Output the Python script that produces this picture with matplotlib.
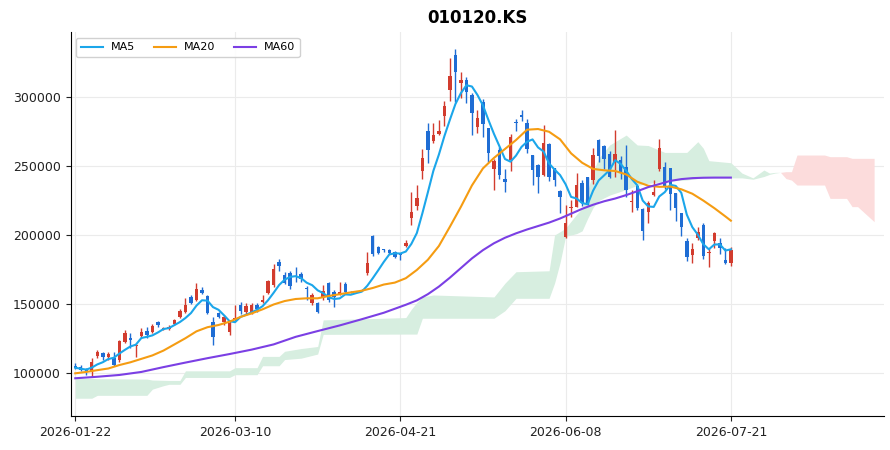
import numpy as np
import pandas as pd
import matplotlib
matplotlib.use("Agg")
import matplotlib.pyplot as plt

title = "010120.KS"
tick_labels = ["2026-01-22", "2026-03-10", "2026-04-21", "2026-06-08", "2026-07-21"]

opens = [104800, 104400, 101500, 101200, 112100, 114100, 111200, 110400, 109200, 122500,
         124800, 119400, 126600, 130500, 129800, 136600, 132000, 131700, 135200, 140700,
         144300, 155200, 152800, 160000, 155700, 137000, 143100, 137000, 129800, 138500,
         149200, 144300, 143600, 149200, 151200, 157700, 163700, 180600, 171000, 172600,
         170000, 171500, 161500, 150400, 150400, 154800, 165000, 158800, 157000, 164400,
         158500, 159000, 159500, 172200, 199100, 191100, 189300, 189100, 187900, 185700,
         192000, 212100, 221300, 246700, 275700, 268500, 273500, 286300, 305100, 330600,
         310200, 312600, 301700, 278200, 296800, 277500, 247700, 261700, 240400, 254400,
         281800, 287100, 281600, 258100, 250800, 243500, 266100, 248400, 232200, 198300,
         219400, 220100, 237500, 241900, 239900, 268900, 264600, 258800, 253200, 254400,
         249600, 224000, 235600, 218600, 216900, 229000, 247700, 249600, 248400, 230700,
         215700, 195800, 185500, 197600, 207300, 186800, 195800, 194000, 181800, 179900]
highs = [107000, 105200, 103200, 110600, 116200, 115000, 115200, 115200, 123800, 131000,
         128600, 120600, 132300, 133000, 135000, 137500, 133500, 134500, 139000, 146500,
         154500, 156500, 164800, 162000, 156400, 140700, 144000, 142000, 138500, 149200,
         151500, 150500, 150400, 150500, 156400, 167500, 179000, 182300, 172800, 174200,
         176500, 172800, 163000, 157700, 151200, 163700, 166200, 160000, 166000, 165500,
         159000, 159500, 160500, 187900, 200000, 192000, 190000, 189800, 188500, 187000,
         196000, 231000, 236000, 262200, 281100, 281500, 283500, 297500, 328300, 334900,
         318600, 314500, 303000, 291000, 298500, 278000, 255000, 264000, 248000, 273500,
         284500, 291000, 284500, 258100, 251800, 280000, 266600, 248600, 232500, 222000,
         225500, 245000, 240000, 242500, 263000, 269900, 265300, 261000, 276100, 257500,
         265400, 232700, 236300, 219400, 224800, 240000, 269500, 253200, 248400, 230700,
         215700, 197600, 194400, 205700, 209000, 190300, 202400, 197600, 190300, 191500]
lows = [102300, 101000, 98300, 97100, 110400, 109500, 109500, 104800, 107500, 121200,
        117700, 111600, 125200, 125500, 128800, 133000, 131200, 131000, 134500, 140000,
        143500, 149800, 151800, 157000, 142800, 120100, 139500, 134500, 127500, 137500,
        142600, 142800, 142600, 144300, 150400, 157000, 162400, 174000, 164200, 160700,
        166000, 166000, 153000, 149200, 143600, 152800, 151500, 147500, 156500, 157500,
        157500, 158300, 159000, 171000, 184500, 186000, 188000, 186500, 183500, 182000,
        191500, 207000, 218000, 240400, 252100, 267000, 273000, 279000, 297500, 296800,
        299300, 296000, 272600, 274000, 271500, 253200, 232700, 240500, 231400, 246700,
        275500, 283000, 259300, 236300, 230700, 243000, 239300, 235500, 216200, 198000,
        213000, 220000, 221000, 222000, 236700, 253200, 247700, 241200, 242500, 240900,
        227800, 216900, 218200, 196400, 209000, 228000, 246700, 233400, 218200, 210200,
        199000, 181300, 179900, 196400, 182300, 177000, 190300, 186000, 178700, 177500]
closes = [103600, 102000, 101000, 108000, 115200, 111600, 113600, 105600, 123200, 128600,
          124000, 120200, 129800, 127400, 133900, 134600, 132500, 133400, 138300, 145000,
          149200, 150400, 160600, 157700, 143600, 125700, 140700, 140700, 136300, 139800,
          145000, 148400, 149200, 146000, 152800, 166800, 175100, 177500, 165400, 163000,
          169500, 167800, 161000, 156400, 144300, 159300, 152800, 154800, 158500, 158800,
          158000, 158800, 160000, 179900, 186300, 187100, 188900, 187100, 184200, 185300,
          194400, 216500, 226600, 255700, 261700, 272600, 275500, 293600, 315300, 318600,
          312600, 304100, 288800, 284700, 280600, 259300, 253900, 243500, 238700, 271000,
          281300, 285500, 262200, 247200, 241900, 266600, 241900, 239900, 227400, 208500,
          220600, 236300, 223000, 223400, 258100, 257300, 255000, 242300, 258800, 244800,
          232700, 225000, 219400, 203100, 223500, 231000, 263000, 235000, 229800, 219400,
          206000, 183800, 189600, 202400, 184700, 187400, 201200, 190300, 179900, 189100]

# moving averages (every 2 bars)
ma20_x = [0, 2, 4, 6, 8, 10, 12, 14, 16, 18, 20, 22, 24, 26, 28, 30, 32, 34, 36, 38,
          40, 42, 44, 46, 48, 50, 52, 54, 56, 58, 60, 62, 64, 66, 68, 70, 72, 74, 76, 78,
          80, 82, 84, 86, 88, 90, 92, 94, 96, 98, 100, 102, 104, 106, 108, 110, 112, 114,
          116, 118, 119]
ma20 = [99500, 100500, 101800, 103000, 105500, 107500, 110000, 112500, 116000, 120500,
        125000, 130000, 133000, 134600, 137000, 140500, 143000, 146000, 149500, 152000,
        153500, 154000, 154000, 155700, 157000, 158300, 159500, 161500, 164000, 165400,
        168600, 174600, 182000, 192000, 206000, 220500, 236000, 248400, 256000, 262500,
        269000, 276500, 277000, 275000, 269500, 259300, 252500, 248000, 247000, 246500,
        244000, 238700, 235800, 235000, 235200, 233200, 230000, 225000, 219500, 213500,
        210400]
ma60_x = [0, 4, 8, 12, 16, 20, 24, 28, 32, 36, 40, 44, 48, 52, 56, 60, 62, 64, 66, 68,
          70, 72, 74, 76, 78, 80, 82, 84, 86, 88, 90, 92, 94, 96, 98, 100, 102, 104, 106,
          108, 110, 112, 114, 116, 119]
ma60 = [95900, 97000, 98300, 100500, 104000, 107300, 110500, 113500, 116700, 120500,
        126000, 130200, 134300, 138800, 143500, 149300, 152500, 157000, 162500, 169000,
        176000, 183000, 189000, 194000, 198000, 201200, 204000, 206500, 209000, 212000,
        215500, 219000, 222000, 224500, 226500, 229000, 231800, 234800, 237000, 239300,
        240600, 241300, 241600, 241700, 241700]

# Ichimoku leading spans (shifted 26 bars ahead)
cloud_x = [0, 3, 4, 13, 14, 16, 17, 19, 20, 28, 29, 33, 34, 37, 38, 41, 44, 45, 60, 61,
           62, 63, 65, 76, 78, 80, 86, 87, 88, 89, 90, 91, 92, 93, 94, 95, 97, 100, 102, 104,
           107, 111, 113, 114, 115, 119, 121, 123, 125, 126, 127, 128, 129, 130, 131, 136, 137, 140,
           141, 142, 145]
span_a = [95800, 95800, 95600, 95300, 94600, 94400, 94300, 94300, 101300, 101300,
          103600, 103600, 111800, 111800, 115500, 117500, 119000, 138300, 140000, 146000,
          151000, 155000, 156400, 155000, 165000, 173300, 174000, 200000, 202400, 205000,
          210000, 215000, 219400, 232000, 246000, 255700, 265400, 272600, 265400, 265000,
          260000, 260000, 267800, 263000, 254000, 252500, 245000, 241500, 247200, 245000,
          245500, 245500, 241000, 239900, 236300, 236300, 226600, 226600, 220600, 220600, 209700]
span_b = [81400, 81400, 83500, 83500, 88000, 90500, 91500, 91500, 96500, 96500,
          98500, 98500, 105000, 105000, 109500, 110500, 113500, 127800, 128000, 128000,
          128000, 139500, 139500, 139500, 145000, 154000, 154000, 165000, 180000, 199000,
          200000, 201000, 203000, 212000, 220000, 225000, 229000, 233000, 236000, 237500,
          239000, 240000, 241000, 241300, 241500, 241500, 241500, 240500, 242500, 244000,
          245000, 245500, 246000, 246000, 258100, 258100, 256900, 256900, 255700, 255700, 255700]

up_col = "#d23c2e"
down_col = "#1f6dd4"

df = pd.DataFrame({"open": opens, "high": highs, "low": lows, "close": closes})
n = len(df)
x = np.arange(n)
ma5 = df["close"].rolling(5, min_periods=1).mean()

fig = plt.figure(figsize=(8.9, 4.5), dpi=100)
ax = fig.add_axes([0.0793, 0.0756, 0.914, 0.8524])

cx = np.array(cloud_x)
sa = np.array(span_a, dtype=float)
sb = np.array(span_b, dtype=float)
ax.fill_between(cx, sa, sb, where=sa >= sb, interpolate=True, color="#d7eee0", linewidth=0, zorder=1)
ax.fill_between(cx, sa, sb, where=sa < sb, interpolate=True, color="#fcdcdc", linewidth=0, zorder=1)

up = df["close"] >= df["open"]
colors = np.where(up, up_col, down_col)
ax.vlines(x, df["low"], df["high"], colors=colors, linewidth=1.0, zorder=3)
body_bottom = np.minimum(df["open"], df["close"])
body_h = np.maximum(np.abs(df["close"] - df["open"]), 700)
ax.bar(x, body_h, bottom=body_bottom, width=0.62, color=colors, linewidth=0, zorder=3)

ax.plot(x, ma5, color="#1ba6ea", linewidth=1.5, label="MA5", zorder=4)
ax.plot(ma20_x, ma20, color="#f59c12", linewidth=1.5, label="MA20", zorder=4)
ax.plot(ma60_x, ma60, color="#7b3fe4", linewidth=1.5, label="MA60", zorder=4)

ticks = np.linspace(0, n - 1, len(tick_labels)).astype(int)
ax.set_xticks(ticks)
ax.set_xticklabels(tick_labels, fontsize=9)
ax.set_yticks([100000, 150000, 200000, 250000, 300000])
ax.set_yticklabels(["100000", "150000", "200000", "250000", "300000"], fontsize=9)
ax.set_xlim(-0.85, 146.8)
ax.set_ylim(68500, 347200)
ax.grid(True, color="#ebebeb", linewidth=0.8, zorder=0)
ax.set_axisbelow(True)
for s in ["top", "right"]:
    ax.spines[s].set_visible(False)
ax.tick_params(colors="#222222", length=3.5)
ax.set_title(title, fontsize=12, fontweight="bold", pad=7)
ax.legend(loc="upper left", ncol=3, fontsize=8, frameon=True, framealpha=0.9,
          edgecolor="#cccccc", borderaxespad=0.5, columnspacing=1.7, handletextpad=0.7)

fig.savefig("out.png", dpi=100)
